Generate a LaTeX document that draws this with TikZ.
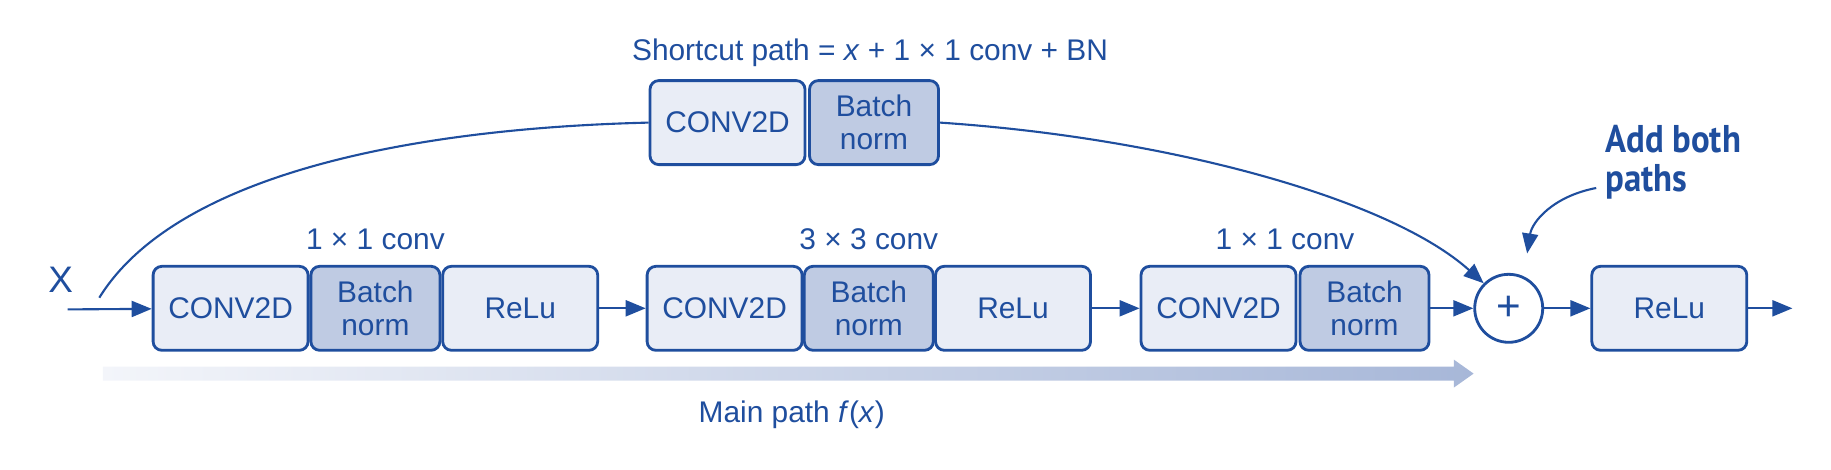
\documentclass[tikz,border=0pt]{standalone}
\usepackage{fontspec}
\setmainfont{Liberation Sans}
\newfontfamily\notefont[FakeStretch=0.9]{PT Sans}
\usepackage{xcolor}
\usepackage{tikz}
\usetikzlibrary{arrows.meta, calc}
\definecolor{inkblue}{HTML}{1F4E9E}
\definecolor{boxlight}{HTML}{E9EDF6}
\definecolor{boxdark}{HTML}{BFCBE3}
\definecolor{barstart}{HTML}{F3F5FA}
\definecolor{barend}{HTML}{A7B7D8}
\tikzset{
  layer/.style        = {rectangle, rounded corners=2.5pt, draw=inkblue, line width=0.8pt,
                         fill=boxlight, text=inkblue, minimum height=8.4mm,
                         minimum width=15.5mm, inner sep=1pt, align=center,
                         font=\fontsize{8.5}{9.5}\selectfont},
  bnorm/.style        = {layer, fill=boxdark, minimum width=12.9mm},
  adder/.style        = {circle, draw=inkblue, line width=0.8pt, fill=white,
                         minimum size=6.8mm, inner sep=0pt, text=inkblue,
                         font=\fontsize{12}{12}\selectfont},
  flow/.style         = {-{Triangle[length=2mm, width=1.6mm]}, draw=inkblue, line width=0.6pt},
  clab/.style         = {text=inkblue, font=\fontsize{8.5}{10}\selectfont, inner sep=1pt},
  note/.style         = {text=inkblue, font=\notefont\bfseries\fontsize{11}{11}\selectfont,
                         align=left, inner sep=0pt},
}

\begin{document}
\begin{tikzpicture}[scale=1.0]
  \useasboundingbox (0,0) rectangle (18.31,4.694);

  % gradient arrow under the main path
  \shade[left color=barstart, right color=barend]
    (1.028,0.888) -- (14.538,0.888) -- (14.538,0.818) -- (14.736,0.958)
    -- (14.538,1.098) -- (14.538,1.028) -- (1.028,1.028) -- cycle;
  \node[clab] (mainlab) at (7.917,0.549) {Main path \textit{f}(\textit{x})};

  % input
  \node[clab, font=\fontsize{10.5}{12}\selectfont] (xin) at (0.607,1.892) {X};
  \coordinate (start) at (0.677,1.600);
  \coordinate (split) at (0.993,1.717);

  % main path, three stages
  \node[layer] (c1) at (2.306,1.611) {CONV2D};
  \node[bnorm] (b1) at (3.754,1.611) {Batch\\norm};
  \node[layer] (r1) at (5.202,1.611) {ReLu};
  \node[layer] (c2) at (7.246,1.611) {CONV2D};
  \node[bnorm] (b2) at (8.688,1.611) {Batch\\norm};
  \node[layer] (r2) at (10.130,1.611) {ReLu};
  \node[layer] (c3) at (12.185,1.611) {CONV2D};
  \node[bnorm] (b3) at (13.645,1.611) {Batch\\norm};
  \node[clab] (l1) at (3.754,2.300) {1 × 1 conv};
  \node[clab] (l2) at (8.688,2.300) {3 × 3 conv};
  \node[clab] (l3) at (12.850,2.300) {1 × 1 conv};

  % adding both paths
  \node[adder] (plus) at (15.087,1.611) {+};
  \node[layer] (r4) at (16.693,1.611) {ReLu};
  \coordinate (out) at (17.924,1.611);

  % shortcut path
  \node[layer] (sc) at (7.275,3.468) {CONV2D};
  \node[bnorm] (sb) at (8.740,3.468) {Batch\\norm};
  \node[clab] (sclab) at (8.700,4.169) {Shortcut path = \textit{x} + 1 × 1 conv + BN};

  \draw[flow] (start) -- (c1);
  \draw[flow] (r1) -- (c2);
  \draw[flow] (r2) -- (c3);
  \draw[flow] (b3) -- (plus);
  \draw[flow] (plus) -- (r4);
  \draw[flow] (r4) -- (out);
  \draw[inkblue, line width=0.6pt] (split) .. controls (1.752,2.943) and (4.087,3.410) .. (sc.west);
  \draw[flow] (sb.east) .. controls (11.677,3.316) and (13.896,2.709) .. (plus.135);

  % callout
  \node[note, anchor=north west] (addnote) at (16.045,3.450) {Add both\\paths};
  \coordinate (notefrom) at (15.962,2.814);
  \draw[flow, shorten >=0.23cm] (notefrom) .. controls (15.530,2.732) and (15.320,2.476) .. (plus.65);
\end{tikzpicture}
\end{document}
